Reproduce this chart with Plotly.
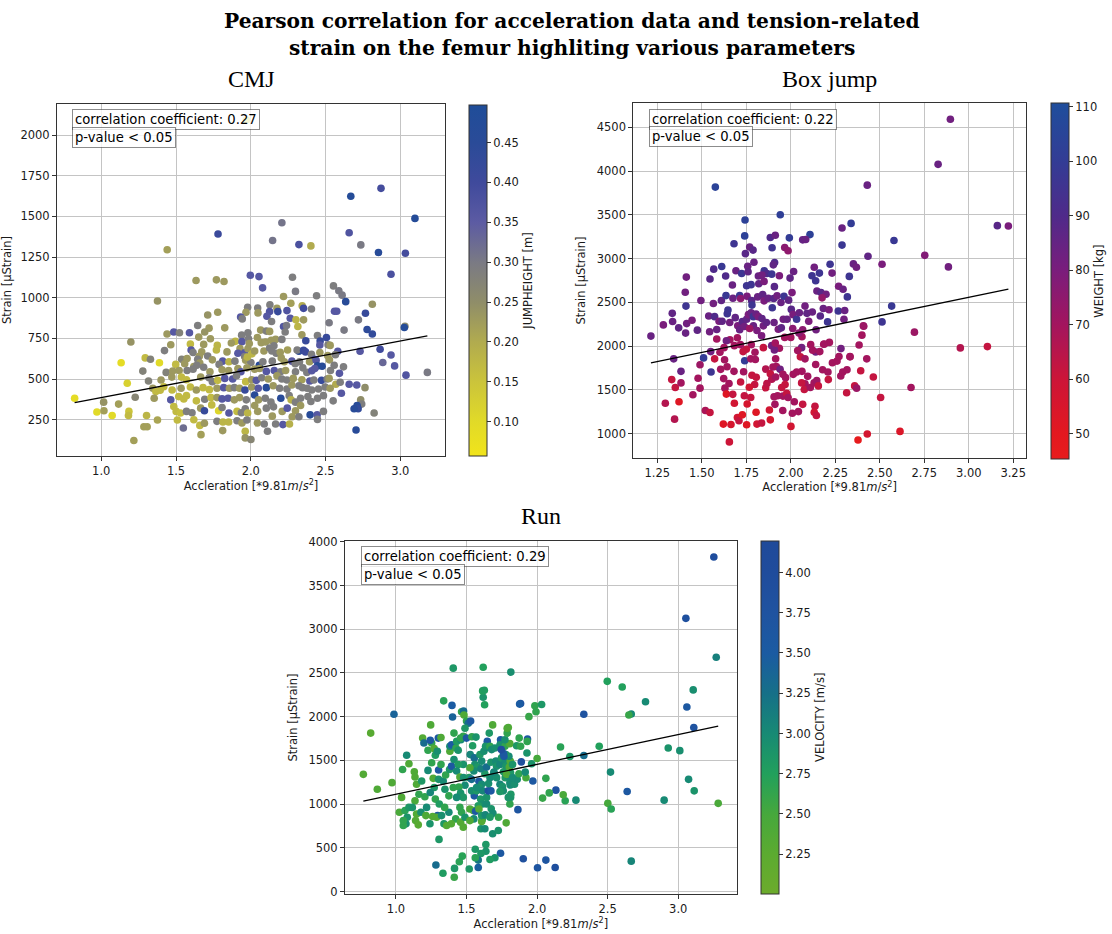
import plotly.graph_objects as go

# ---------------- CMJ: acceleration, strain, jump height ----------------
cmj_acc = [
    1.97, 2.669, 2.871, 3.098, 2.208, 1.781, 2.146, 2.322, 2.402, 2.658, 2.736, 2.854, 3.034, 1.441, 3.181, 0.822, 0.971, 1.018, 1.016,
    1.634, 1.77, 1.821, 1.997, 2.055, 2.279, 2.938, 2.079, 2.299, 2.553, 2.589, 2.611, 1.376, 2.219, 2.44, 2.635, 2.268, 2.344, 2.813, 2.128,
    1.979, 2.046, 2.175, 2.242, 2.353, 2.406, 2.126, 2.181, 2.56, 2.575, 2.767, 1.968, 1.712, 1.779, 1.932, 2.048, 1.943, 2.108, 2.264, 2.302, 2.353, 2.139, 2.72,
    1.645, 1.721, 1.826, 2.219, 2.239, 2.315, 2.524, 2.778, 2.813, 3.031, 3.027, 2.066, 1.981, 2.104, 2.126, 2.23, 1.692, 1.59, 1.44, 1.485, 1.523, 2.624, 2.342,
    1.73, 1.652, 1.939, 1.897, 2.044, 2.166, 2.208, 2.137, 2.368, 2.446, 2.464, 2.506, 2.462, 2.517, 2.531, 1.198, 1.465, 1.596, 1.685, 1.776, 1.87, 1.941, 1.985, 2.07, 1.99, 2.099, 2.155, 2.865, 2.938,
    1.423, 1.601, 1.614, 1.672, 1.77, 1.656, 1.712, 1.841, 1.928, 1.914, 1.959, 1.981, 1.959, 2.008, 2.026, 2.088, 2.126, 2.141, 2.17, 2.197, 2.246, 2.322, 2.31, 2.353, 2.366, 2.406, 2.462, 2.515, 2.582, 2.566, 2.731, 2.428,
    1.294, 1.329, 1.389, 1.133, 1.538, 1.574, 1.645, 1.659, 1.498, 1.558, 1.619, 1.685, 1.639, 1.812, 1.854, 1.743, 1.788, 1.894, 1.966, 2.001, 1.977, 2.057, 2.081, 2.144, 2.204, 2.224, 2.275, 2.297, 2.326, 2.393, 2.437, 2.446, 2.477, 2.526, 2.62, 2.558, 2.883, 2.962,
    1.278, 1.434, 1.478, 1.521, 1.574, 1.614, 1.727, 1.808, 1.852, 1.914, 1.934, 1.974, 2.026, 2.059, 2.104, 2.157, 2.199, 2.233, 2.299, 2.348, 2.375, 2.408, 2.428, 2.533, 2.593, 3.038,
    1.316, 1.4, 1.472, 1.536, 1.57, 1.665, 1.721, 1.743, 1.779, 1.826, 1.879, 1.905, 1.966, 2.006, 2.037, 2.073, 2.117, 2.175, 2.208, 2.242, 2.284, 2.342, 2.395, 2.422, 2.473, 2.511, 2.524, 2.569, 2.598, 2.658, 2.709,
    1.174, 1.345, 1.365, 1.394, 1.418, 1.474, 1.534, 1.596, 1.636, 1.681, 1.723, 1.774, 1.819, 1.857, 1.89, 1.925, 1.961, 2.006, 2.05, 2.104, 2.15, 2.193, 2.242, 2.275, 2.322, 2.346, 2.377, 2.408, 2.453, 2.497, 2.531, 2.764,
    1.227, 1.354, 1.116, 1.465, 1.518, 1.552, 1.57, 1.636, 1.692, 1.734, 1.774, 1.808, 1.848, 1.89, 1.925, 1.97, 2.026, 2.052, 2.097, 2.135, 2.201, 2.257, 2.27, 2.299, 2.333, 2.382, 2.402, 2.446, 2.486, 2.551, 2.606, 2.735, 2.742, 2.711, 2.718,
    1.073, 1.185, 1.182, 1.303, 1.376, 1.485, 1.501, 1.53, 1.57, 1.607, 1.665, 1.69, 1.739, 1.785, 1.808, 1.854, 1.908, 1.937, 1.963, 1.979, 2.026, 2.046, 2.104, 2.152, 2.21, 2.244, 2.299, 2.333, 2.397, 2.444, 2.486, 2.691, 2.825,
    1.285, 1.307, 1.509, 1.549, 1.619, 1.659, 1.69, 1.774, 1.814, 1.852, 1.908, 1.941, 1.974, 2.044, 2.09, 2.144, 2.166, 2.215, 2.277, 2.259, 2.322, 2.446, 2.704, 1.667, 1.812, 1.963, 1.963, 2.112, 1.218, 2.001,
]
cmj_strain = [
    2093, 1624, 1673, 1488, 1461, 1392, 1352, 1327, 1319, 1400, 1325, 1278, 1274, 1295, 541, 382, 297, 305, 358,
    1106, 1110, 1100, 1138, 1130, 1126, 1145, 1061, 1039, 1073, 1043, 1016, 980, 1008, 1012, 976, 966, 951, 960, 957,
    941, 937, 935, 921, 935, 931, 915, 915, 917, 917, 905, 911, 894, 911, 882, 907, 870, 886, 874, 864, 864, 854, 864,
    829, 813, 815, 823, 829, 823, 846, 805, 777, 825, 817, 801, 785, 795, 793, 789, 789, 785, 777, 789, 785, 801, 772,
    748, 758, 770, 732, 756, 744, 744, 738, 736, 768, 734, 756, 709, 711, 707, 728, 711, 716, 713, 707, 722, 730, 748, 724, 718, 728, 705, 683, 648,
    675, 679, 663, 667, 679, 640, 642, 667, 687, 659, 661, 687, 638, 655, 673, 673, 691, 673, 659, 665, 679, 671, 679, 677, 667, 653, 663, 644, 671, 650, 671, 622,
    630, 622, 600, 600, 622, 626, 622, 598, 590, 594, 577, 573, 585, 610, 606, 618, 590, 610, 616, 602, 636, 585, 606, 610, 630, 606, 610, 594, 606, 606, 616, 581, 579, 618, 575, 585, 602, 581,
    549, 541, 549, 553, 553, 561, 545, 557, 553, 565, 545, 569, 561, 565, 547, 553, 545, 553, 545, 569, 541, 551, 565, 553, 535, 524,
    488, 494, 512, 512, 496, 512, 508, 484, 492, 504, 500, 520, 484, 496, 492, 508, 500, 520, 500, 494, 504, 496, 488, 494, 492, 500, 504, 468, 480, 468, 463,
    474, 443, 423, 431, 453, 433, 443, 451, 433, 447, 435, 443, 447, 443, 447, 443, 433, 451, 443, 447, 459, 443, 439, 463, 459, 447, 443, 433, 439, 451, 443, 447,
    388, 382, 346, 372, 392, 378, 398, 366, 376, 386, 386, 378, 382, 372, 386, 372, 402, 372, 382, 358, 382, 398, 372, 358, 382, 392, 362, 382, 398, 366, 413, 372, 346, 337, 317,
    276, 301, 276, 276, 248, 331, 301, 291, 301, 293, 321, 305, 341, 305, 325, 291, 301, 293, 317, 291, 337, 301, 321, 329, 301, 321, 305, 337, 280, 280, 301, 317, 291,
    207, 207, 248, 199, 250, 215, 228, 240, 236, 236, 244, 230, 248, 230, 224, 272, 224, 220, 268, 224, 268, 252, 187, 158, 183, 179, 138, 179, 122, 128,
]
cmj_jumpheight = [
    0.12, 0.47, 0.39, 0.47, 0.31, 0.41, 0.31, 0.38, 0.20, 0.37, 0.30, 0.46, 0.39, 0.22, 0.30, 0.09, 0.10, 0.22, 0.24,
    0.23, 0.23, 0.23, 0.36, 0.36, 0.29, 0.38, 0.36, 0.30, 0.29, 0.30, 0.30, 0.24, 0.23, 0.29, 0.46, 0.22, 0.20, 0.24, 0.29,
    0.29, 0.29, 0.23, 0.37, 0.40, 0.29, 0.37, 0.42, 0.36, 0.36, 0.42, 0.23, 0.24, 0.23, 0.36, 0.23, 0.29, 0.36, 0.36, 0.18, 0.23, 0.29, 0.30,
    0.29, 0.23, 0.23, 0.37, 0.30, 0.18, 0.30, 0.44, 0.43, 0.26, 0.47, 0.23, 0.29, 0.29, 0.23, 0.29, 0.24, 0.36, 0.23, 0.36, 0.28, 0.30, 0.23,
    0.23, 0.23, 0.29, 0.18, 0.23, 0.23, 0.29, 0.23, 0.42, 0.29, 0.42, 0.42, 0.36, 0.29, 0.23, 0.24, 0.23, 0.17, 0.23, 0.18, 0.23, 0.36, 0.29, 0.23, 0.23, 0.23, 0.29, 0.40, 0.36,
    0.29, 0.36, 0.29, 0.23, 0.18, 0.23, 0.29, 0.23, 0.23, 0.36, 0.36, 0.23, 0.29, 0.18, 0.23, 0.23, 0.29, 0.29, 0.29, 0.23, 0.22, 0.45, 0.29, 0.42, 0.41, 0.29, 0.23, 0.23, 0.36, 0.29, 0.36, 0.36,
    0.17, 0.28, 0.10, 0.09, 0.28, 0.23, 0.29, 0.23, 0.17, 0.23, 0.23, 0.29, 0.29, 0.36, 0.18, 0.23, 0.29, 0.29, 0.23, 0.29, 0.18, 0.46, 0.29, 0.29, 0.23, 0.23, 0.36, 0.29, 0.29, 0.23, 0.36, 0.46, 0.46, 0.23, 0.29, 0.29, 0.33, 0.36,
    0.28, 0.28, 0.23, 0.23, 0.29, 0.29, 0.23, 0.23, 0.23, 0.23, 0.36, 0.23, 0.23, 0.23, 0.36, 0.36, 0.29, 0.23, 0.29, 0.29, 0.29, 0.36, 0.36, 0.29, 0.36, 0.37,
    0.28, 0.23, 0.23, 0.17, 0.17, 0.23, 0.29, 0.29, 0.17, 0.36, 0.36, 0.29, 0.17, 0.23, 0.36, 0.29, 0.23, 0.23, 0.29, 0.29, 0.23, 0.22, 0.36, 0.29, 0.42, 0.29, 0.23, 0.20, 0.29, 0.36, 0.36,
    0.12, 0.23, 0.17, 0.17, 0.17, 0.17, 0.23, 0.17, 0.23, 0.17, 0.17, 0.23, 0.36, 0.23, 0.29, 0.23, 0.42, 0.23, 0.36, 0.46, 0.23, 0.29, 0.29, 0.23, 0.29, 0.29, 0.29, 0.29, 0.29, 0.29, 0.23, 0.25,
    0.27, 0.23, 0.22, 0.36, 0.17, 0.17, 0.17, 0.17, 0.29, 0.17, 0.23, 0.36, 0.36, 0.23, 0.23, 0.29, 0.46, 0.23, 0.29, 0.29, 0.46, 0.29, 0.19, 0.29, 0.29, 0.29, 0.29, 0.29, 0.29, 0.29, 0.36, 0.25, 0.29, 0.46, 0.43,
    0.10, 0.15, 0.17, 0.18, 0.21, 0.17, 0.17, 0.16, 0.29, 0.29, 0.23, 0.42, 0.17, 0.11, 0.29, 0.36, 0.17, 0.29, 0.29, 0.18, 0.23, 0.23, 0.29, 0.29, 0.23, 0.36, 0.23, 0.23, 0.46, 0.36, 0.29, 0.46, 0.28,
    0.22, 0.22, 0.17, 0.32, 0.17, 0.17, 0.23, 0.29, 0.18, 0.18, 0.29, 0.23, 0.29, 0.23, 0.29, 0.23, 0.29, 0.36, 0.23, 0.19, 0.29, 0.29, 0.46, 0.22, 0.23, 0.18, 0.24, 0.29, 0.22, 0.27,
]

# ---------------- Box jump: acceleration, strain, body weight ----------------
box_acc = [
    2.897, 2.828, 2.43, 1.576, 1.941, 1.743, 2.339, 2.288, 3.161, 3.223,
    2.108, 1.741, 2.58, 1.992, 1.885, 1.913, 2.067, 2.084, 1.681, 2.288,
    1.966, 1.985, 1.769, 1.788, 1.895, 1.745, 2.434, 2.513, 2.753, 2.886,
    2.221, 2.352, 2.369, 1.909, 1.902, 1.793, 1.758, 1.612, 1.567, 1.692,
    1.724, 1.76, 1.851, 1.866, 1.893, 1.936, 1.996, 2.016, 2.132, 2.119,
    2.161, 2.14, 2.232, 2.329, 1.413, 1.546, 1.634, 1.672, 1.752, 1.777,
    1.82, 1.85, 1.908, 1.818, 1.838, 1.407, 1.495, 1.565, 1.61, 1.636,
    1.675, 1.713, 1.718, 1.754, 1.78, 1.782, 1.814, 1.842, 1.85, 1.874,
    1.904, 1.923, 1.945, 1.962, 2.007, 1.988, 2.147, 2.17, 2.198, 2.176,
    2.269, 2.294, 2.318, 1.411, 1.334, 1.336, 1.284, 1.214, 1.37, 1.415,
    1.409, 1.445, 1.475, 1.539, 1.544, 1.572, 1.584, 1.597, 1.614, 1.643,
    1.647, 1.657, 1.688, 1.702, 1.713, 1.728, 1.739, 1.752, 1.762, 1.777,
    1.79, 1.805, 1.818, 1.838, 1.846, 1.79, 1.769, 1.81, 1.836, 1.863,
    1.896, 1.906, 1.93, 1.947, 1.958, 1.979, 2.003, 2.013, 2.033, 2.048,
    2.08, 2.091, 2.101, 2.121, 2.142, 2.166, 2.183, 2.207, 2.215, 2.267,
    2.303, 2.299, 2.408, 2.4, 2.384, 2.427, 2.333, 2.282, 2.217, 2.189,
    2.14, 2.123, 2.112, 2.061, 2.063, 2.046, 2.067, 2.011, 2.0, 1.966,
    1.936, 1.908, 1.893, 1.913, 1.846, 1.799, 1.778, 1.75, 1.732, 1.717,
    1.7, 1.683, 1.658, 1.638, 1.625, 1.602, 1.584, 1.55, 1.51, 1.49,
    1.342, 1.383, 1.331, 1.351, 1.383, 1.45, 1.49, 1.479, 1.295, 1.372,
    1.347, 1.52, 1.546, 1.552, 1.572, 1.606, 1.623, 1.63, 1.638, 1.628,
    1.642, 1.681, 1.653, 1.674, 1.683, 1.664, 1.621, 1.655, 1.7, 1.709,
    1.728, 1.752, 1.739, 1.718, 1.735, 1.741, 1.775, 1.801, 1.782, 1.806,
    1.797, 1.767, 1.775, 1.755, 1.805, 1.81, 1.836, 1.859, 1.866, 1.859,
    1.885, 1.9, 1.919, 1.915, 1.893, 1.915, 1.94, 1.956, 1.971, 1.968,
    1.949, 1.926, 1.906, 1.88, 1.911, 1.885, 1.955, 1.956, 1.977, 1.985,
    2.009, 2.001, 2.043, 2.067, 2.02, 2.014, 2.033, 2.054, 2.08, 2.039,
    2.063, 2.095, 2.08, 2.061, 2.076, 2.11, 2.131, 2.146, 2.155, 2.14,
    2.179, 2.209, 2.211, 2.163, 2.185, 2.136, 2.132, 2.144, 2.234, 2.26,
    2.271, 2.281, 2.292, 2.316, 2.314, 2.333, 2.359, 2.37, 2.393,
    2.464, 2.505, 2.378, 2.43, 2.614, 2.676, 2.695, 2.953, 3.105, 2.567, 2.513, 2.41,
]
box_strain = [
    4594, 4078, 3840, 3818, 3501, 3441, 3403, 3351, 3377, 3373,
    3275, 3260, 3207, 3238, 3241, 3268, 3215, 3219, 3170, 3155,
    3128, 3091, 3132, 3098, 3124, 3057, 3027, 2936, 3038, 2906,
    2936, 2940, 2902, 2955, 2929, 2959, 2914, 2910, 2880, 2861,
    2831, 2850, 2861, 2831, 2823, 2804, 2778, 2854, 2902, 2804,
    2835, 2748, 2835, 2797, 2789, 2767, 2801, 2699, 2691, 2703,
    2714, 2740, 2680, 2801, 2812, 2616, 2522, 2488, 2522, 2578,
    2548, 2578, 2544, 2571, 2522, 2469, 2563, 2590, 2518, 2548,
    2544, 2575, 2499, 2571, 2612, 2526, 2631, 2612, 2593, 2552,
    2684, 2650, 2563, 2458, 2375, 2281, 2243, 2115, 2209, 2258,
    2149, 2296, 2183, 2345, 2164, 2337, 2190, 2285, 2285, 2371,
    2413, 2270, 2326, 2232, 2187, 2281, 2224, 2307, 2360, 2382,
    2337, 2367, 2337, 2315, 2232, 2232, 2202, 2179, 2119, 2270,
    2439, 2270, 2194, 2209, 2307, 2307, 2420, 2360, 2307, 2382,
    2458, 2375, 2285, 2390, 2187, 2345, 2431, 2277, 2416, 2401,
    2408, 2307, 2232, 2126, 2013, 1855, 1881, 1972, 2043, 2025,
    1934, 1953, 2017, 1983, 2108, 2149, 2187, 2202, 2100, 2100,
    1976, 1957, 2006, 2036, 1983, 1930, 2017, 1964, 1938, 2017,
    2096, 2006, 2074, 2062, 1983, 1930, 2081, 1938, 1866, 1787,
    1855, 1712, 1618, 1527, 1580, 1445, 1520, 1633, 1347, 1365,
    1166, 1264, 1241, 1704, 1855, 1735, 1629, 1520, 1452, 1844,
    1765, 1712, 1573, 1449, 1347, 1105, 1109, 906, 1185, 1147,
    1215, 1102, 1433, 1591, 1708, 1833, 1855, 1848, 1667, 1644,
    1561, 1531, 1414, 1339, 1245, 1109, 1121, 1524, 1573, 1738,
    1686, 1761, 1768, 1855, 1622, 1648, 1735, 1678, 1640, 1561,
    1527, 1433, 1422, 1271, 1335, 1158, 1264, 1429, 1460, 1414,
    1234, 1083, 1252, 1335, 1365, 1678, 1704, 1878, 1855, 1949,
    1712, 1655, 1569, 1580, 1505, 1527, 1580, 1606, 1546, 1791,
    1731, 1704, 1618, 1938, 2021, 1313, 1245, 1207, 1810, 1829,
    1881, 1659, 1704, 1731, 1467, 1878, 1546, 1520, 1719,
    1648, 1414, 928, 996, 1026, 1527, 2160, 1980, 1995, 2458, 2277, 2228,
]
box_weight = [
    82, 84, 84, 104, 102, 103, 100, 84, 88, 80,
    103, 103, 98, 100, 90, 84, 85, 84, 96, 97,
    76, 75, 84, 88, 95, 88, 86, 80, 78, 82,
    96, 84, 82, 90, 86, 84, 84, 98, 90, 84,
    96, 86, 96, 90, 96, 80, 86, 84, 82, 96,
    96, 96, 82, 96, 82, 88, 90, 84, 96, 96,
    86, 80, 88, 84, 82, 82, 82, 82, 86, 98,
    84, 98, 76, 80, 88, 96, 84, 86, 80, 84,
    88, 82, 84, 96, 80, 86, 84, 88, 82, 74,
    80, 84, 96, 96, 86, 84, 80, 84, 86, 82,
    84, 80, 86, 84, 82, 90, 84, 80, 86, 96,
    96, 82, 86, 80, 84, 88, 82, 86, 80, 84,
    96, 84, 80, 86, 82, 84, 72, 80, 80, 86,
    96, 84, 80, 86, 82, 84, 88, 80, 96, 84,
    82, 86, 80, 84, 82, 88, 84, 96, 80, 96,
    84, 82, 72, 70, 70, 70, 70, 82, 70, 70,
    82, 70, 70, 82, 70, 76, 76, 76, 70, 70,
    70, 82, 82, 70, 62, 70, 70, 62, 62, 70,
    70, 70, 70, 82, 70, 70, 70, 82, 100, 72,
    84, 84, 62, 62, 70, 70, 70, 70, 66, 52,
    66, 68, 62, 96, 62, 70, 70, 70, 52, 70,
    70, 70, 70, 62, 58, 56, 52, 60, 58, 62,
    52, 52, 62, 62, 70, 100, 70, 70, 62, 62,
    62, 58, 62, 56, 52, 58, 62, 62, 64, 66,
    62, 70, 70, 70, 66, 70, 82, 70, 70, 62,
    62, 70, 70, 58, 70, 56, 70, 70, 62, 70,
    70, 58, 70, 62, 70, 70, 70, 62, 70, 70,
    70, 70, 70, 62, 62, 70, 70, 72, 62, 70,
    70, 70, 62, 70, 70, 62, 58, 62, 70, 70,
    70, 70, 70, 70, 62, 70, 62, 72, 62,
    62, 62, 47, 57, 54, 70, 72, 66, 62, 98, 96, 72,
]

# ---------------- Run: acceleration, strain, running velocity ----------------
run_acc = [
    3.252, 3.054, 3.269, 2.497, 2.603, 3.106, 2.768, 3.061, 2.667, 2.65,
    2.331, 3.11, 2.929, 3.011, 2.44, 2.166, 2.232, 2.331, 2.52, 3.073,
    3.113, 2.638, 2.9, 3.283, 2.501, 2.525, 2.275, 2.199, 2.133, 2.185,
    2.086, 2.039, 2.062, 2.0, 1.97, 1.921, 1.864, 2.667, 2.128, 2.062,
    2.003, 1.902, 1.741, 1.701, 1.666, 1.637, 1.637, 1.602, 1.583, 1.583,
    1.562, 1.562, 1.519, 1.47, 1.449, 1.413, 1.415, 1.333, 1.283, 1.305,
    1.406, 1.618, 1.814, 1.338, 1.397, 1.401, 1.618, 1.614, 1.626, 1.628,
    1.883, 1.876, 1.984, 1.992, 2.032, 1.942, 0.986, 0.821, 0.769, 0.868,
    0.972, 1.04, 1.024, 1.064, 1.08, 1.071, 1.052, 1.052, 1.092, 1.076,
    1.092, 1.047, 1.13, 1.135, 1.146, 1.135, 1.116, 1.163, 1.146, 1.139,
    1.158, 1.177, 1.189, 1.198, 1.182, 1.205, 1.217, 1.212, 1.241, 1.253,
    1.243, 1.246, 1.227, 1.271, 1.279, 1.293, 1.3, 1.319, 1.253, 1.227,
    1.264, 1.302, 1.319, 1.302, 1.271, 1.243, 1.279, 1.307, 1.295, 1.288,
    1.26, 1.323, 1.34, 1.359, 1.375, 1.345, 1.375, 1.347, 1.335, 1.352,
    1.38, 1.394, 1.411, 1.382, 1.382, 1.394, 1.425, 1.411, 1.43, 1.441,
    1.465, 1.479, 1.482, 1.5, 1.512, 1.529, 1.489, 1.477, 1.46, 1.458,
    1.5, 1.538, 1.567, 1.543, 1.526, 1.555, 1.559, 1.578, 1.552, 1.524,
    1.477, 1.441, 1.43, 1.453, 1.479, 1.519, 1.536, 1.489, 1.446, 1.458,
    1.477, 1.406, 1.43, 1.453, 1.465, 1.423, 1.392, 1.458, 1.477, 1.489,
    1.524, 1.548, 1.564, 1.552, 1.524, 1.555, 1.536, 1.571, 1.588, 1.607,
    1.59, 1.614, 1.6, 1.614, 1.642, 1.583, 1.611, 1.607, 1.602, 1.63,
    1.588, 1.607, 1.633, 1.642, 1.654, 1.673, 1.656, 1.666, 1.63, 1.602,
    1.642, 1.673, 1.607, 1.595, 1.623, 1.642, 1.647, 1.635, 1.666, 1.678,
    1.661, 1.685, 1.701, 1.708, 1.713, 1.737, 1.748, 1.751, 1.741, 1.737,
    1.772, 1.774, 1.779, 1.762, 1.694, 1.713, 1.737, 1.755, 1.774, 1.796,
    1.807, 1.812, 1.784, 1.803, 1.81, 1.826, 1.8, 1.779, 1.807, 1.772,
    1.788, 1.788, 1.796, 1.762, 1.765, 1.746, 1.675, 1.687, 1.727, 1.781,
    1.666, 1.685, 1.725, 1.571, 1.855, 1.928, 1.932, 1.93, 1.873, 1.883,
    1.81, 1.812, 1.807, 1.84, 1.859, 1.814, 1.796, 1.871, 1.916, 1.888,
    1.961, 1.826, 1.76, 1.737, 1.694,
]
run_strain = [
    3827, 3125, 2680, 2404, 2340, 2306, 2170, 2110, 2030, 2019,
    2027, 1876, 1642, 1611, 1661, 1653, 1544, 1555, 1366, 1283,
    1151, 1144, 1045, 1008, 1008, 944, 1045, 1038, 1159, 1106,
    1128, 1068, 1294, 1521, 1264, 1302, 936, 347, 275, 359,
    272, 374, 438, 385, 366, 536, 460, 434, 359, 275,
    483, 385, 257, 404, 340, 162, 264, 208, 302, 596,
    2555, 2566, 2510, 2181, 2129, 1996, 2223, 2295, 2302, 2136,
    2151, 2144, 2125, 2057, 2140, 2000, 2027, 1812, 1340, 1170,
    1245, 1076, 906, 925, 849, 774, 755, 811, 962, 1559,
    1461, 1396, 1370, 1310, 1227, 1038, 962, 1113, 887, 811,
    762, 906, 1755, 1698, 1264, 1083, 962, 868, 774, 1698,
    1729, 1906, 1615, 1634, 1559, 1604, 1755, 1762, 1472, 1385,
    1294, 1389, 1453, 1283, 1189, 1132, 1057, 1000, 868, 849,
    857, 868, 774, 755, 906, 962, 1094, 1170, 1264, 1332,
    1396, 1434, 1510, 1604, 1661, 1679, 1642, 1812, 1717, 1615,
    2057, 2064, 2019, 1951, 1925, 1951, 1868, 1774, 1736, 1755,
    1755, 1770, 1766, 1668, 1566, 1528, 1453, 1423, 1378, 1415,
    1453, 1453, 1378, 1310, 1302, 1302, 1283, 1215, 1196, 1125,
    1076, 1189, 1076, 962, 906, 830, 774, 793, 736, 849,
    944, 925, 917, 830, 811, 1094, 1151, 1151, 1261, 1227,
    1189, 1151, 1057, 1000, 1000, 981, 823, 800, 717, 717,
    944, 868, 876, 1076, 1151, 1151, 1234, 1302, 1347, 1404,
    1423, 1479, 1491, 1566, 1604, 1649, 1717, 1661, 1661, 1623,
    1812, 1906, 1642, 1491, 1434, 1453, 1528, 1642, 1736, 1679,
    1661, 1491, 1434, 1370, 1359, 1302, 1227, 1200, 1302, 1321,
    1245, 1359, 1340, 1423, 1491, 1453, 1547, 1566, 1691, 1736,
    1812, 1868, 1876, 1578, 1547, 1623, 947, 894, 849, 785,
    849, 660, 698, 1189, 1668, 1585, 1744, 1717, 1755, 1661,
    1219, 1076, 1000, 1227, 1283, 1113, 1076, 1347, 1366, 1483,
    1461, 1302, 1151, 1144, 1366,
]
run_velocity = [
    3.95, 3.85, 3.1, 2.75, 2.75, 2.95, 3.0, 3.6, 3.0, 2.6,
    3.75, 3.75, 2.9, 2.95, 2.75, 2.7, 2.85, 3.3, 3.0, 3.0,
    2.9, 3.6, 3.0, 2.45, 2.5, 2.7, 3.0, 2.7, 3.8, 2.45,
    2.65, 2.6, 2.65, 2.5, 3.6, 2.5, 3.7, 3.05, 3.9, 3.7,
    3.7, 3.85, 3.6, 2.9, 2.8, 2.85, 2.9, 2.85, 3.2, 3.45,
    2.85, 2.7, 2.85, 2.7, 2.7, 2.6, 2.85, 2.8, 3.3, 2.85,
    2.85, 2.75, 2.95, 2.7, 3.5, 3.4, 2.9, 2.75, 2.8, 2.75,
    3.8, 3.5, 2.65, 2.65, 2.85, 2.6, 3.4, 2.3, 2.35, 2.4,
    2.4, 2.4, 2.45, 2.7, 2.9, 2.95, 2.65, 2.65, 2.85, 3.0,
    2.4, 2.65, 2.4, 2.4, 2.4, 2.45, 2.9, 2.65, 2.35, 2.35,
    2.3, 2.95, 2.35, 3.3, 2.85, 2.65, 3.0, 2.4, 2.9, 2.65,
    3.6, 2.4, 2.65, 2.35, 2.8, 2.95, 3.6, 2.4, 2.65, 3.0,
    2.4, 3.6, 2.65, 2.9, 2.85, 3.05, 2.65, 2.8, 3.6, 2.35,
    2.35, 2.95, 2.85, 2.35, 3.0, 2.65, 2.65, 2.9, 3.0, 2.65,
    2.85, 3.6, 2.95, 2.4, 3.0, 3.5, 2.65, 2.65, 2.8, 2.9,
    2.65, 3.3, 2.4, 2.65, 3.3, 3.6, 2.85, 2.65, 3.0, 2.65,
    3.6, 2.65, 2.9, 2.8, 3.05, 3.3, 2.95, 2.85, 3.0, 2.4,
    2.9, 2.8, 3.0, 2.4, 2.95, 2.85, 3.3, 3.0, 2.65, 2.9,
    2.85, 2.65, 3.0, 2.65, 2.65, 2.65, 2.35, 2.35, 2.35, 2.9,
    2.4, 2.4, 3.6, 3.0, 2.4, 3.6, 2.95, 2.85, 3.6, 3.0,
    2.9, 3.05, 2.85, 2.95, 3.0, 2.8, 2.65, 2.35, 2.9, 3.0,
    2.35, 2.85, 3.05, 2.9, 3.9, 3.6, 2.95, 3.0, 2.85, 3.1,
    3.3, 2.9, 3.0, 2.85, 2.95, 3.05, 3.6, 2.9, 2.65, 3.0,
    2.85, 2.4, 2.95, 3.0, 2.9, 3.05, 2.85, 3.6, 3.6, 2.95,
    2.65, 3.0, 2.9, 2.85, 3.0, 2.95, 3.05, 2.9, 2.85, 3.0,
    2.95, 2.85, 2.4, 2.4, 2.4, 2.9, 3.0, 2.85, 2.4, 2.95,
    2.65, 2.4, 2.4, 3.6, 3.6, 3.95, 2.9, 3.0, 2.65, 2.4,
    2.85, 2.95, 2.9, 3.0, 2.85, 2.9, 3.6, 2.65, 2.65, 2.65,
    3.0, 2.9, 2.65, 2.95, 3.0, 2.85, 2.9, 2.65, 3.0, 3.9,
    2.9, 3.0, 2.95, 2.85, 3.05,
]

# Linear fits (slope, intercept) and Pearson statistics per exercise
cmj_fit = (174.1, 212.0)
box_fit = (419.4, 1299.6)
run_fit = (341.3, 772.0)
corr_coef = {"CMJ": 0.27, "Box jump": 0.22, "Run": 0.29}
p_value_text = "p-value < 0.05"

# Colour scales for the third variable of each exercise
jump_scale = [
    [0.0, "#f1e41b"], [0.098, "#e1da28"], [0.211, "#cbc43b"], [0.325, "#b1ab4f"],
    [0.439, "#8f8d69"], [0.552, "#7a7a84"], [0.666, "#5c5ba3"], [0.78, "#3f4a9c"],
    [0.893, "#2a4b98"], [1.0, "#1f4d99"],
]
weight_scale = [
    [0.0, "#e81c1c"], [0.07, "#e3181f"], [0.224, "#cc1538"], [0.377, "#a3155e"],
    [0.53, "#7a1d7c"], [0.683, "#4f2a8a"], [0.836, "#333c95"], [1.0, "#1f4e9c"],
]
velocity_scale = [
    [0.0, "#6cab2c"], [0.112, "#5cab30"], [0.226, "#46a83c"], [0.34, "#22a05c"],
    [0.454, "#178a74"], [0.568, "#167088"], [0.682, "#1b5ba2"], [0.796, "#1f53a0"],
    [0.91, "#1f4c9c"], [1.0, "#1f4a9a"],
]

W, H = 1112, 934
TEXT = "#1a1a1a"
GRID = "#c4c4c4"
SPINE = "#333333"
AX_FONT = dict(family="DejaVu Sans", size=11.5, color=TEXT)
XTITLE = "Accleration [*9.81<i>m</i>/<i>s</i><sup>2</sup>]"
YTITLE = "Strain [µStrain]"

fig = go.Figure()


def add_panel(acc, strain, param, fit, xa, ya, cax):
    fig.add_trace(go.Scatter(
        x=acc, y=strain, mode="markers", xaxis=xa, yaxis=ya,
        marker=dict(color=param, coloraxis=cax, size=7.6, line=dict(width=0)),
        showlegend=False, hoverinfo="skip",
    ))
    slope, intercept = fit
    x0, x1 = min(acc), max(acc)
    fig.add_trace(go.Scatter(
        x=[x0, x1], y=[intercept + slope * x0, intercept + slope * x1],
        mode="lines", xaxis=xa, yaxis=ya, line=dict(color="black", width=1.3),
        showlegend=False, hoverinfo="skip",
    ))


add_panel(cmj_acc, cmj_strain, cmj_jumpheight, cmj_fit, "x", "y", "coloraxis")
add_panel(box_acc, box_strain, box_weight, box_fit, "x2", "y2", "coloraxis2")
add_panel(run_acc, run_strain, run_velocity, run_fit, "x3", "y3", "coloraxis3")


def px_x(v):
    return v / W


def px_y(v):
    return 1 - v / H


def axis(domain, rng, tickvals, fmt, title, anchor, standoff):
    return dict(
        domain=domain, range=rng, tickvals=tickvals, tickformat=fmt,
        showgrid=True, gridcolor=GRID, gridwidth=1, zeroline=False,
        showline=True, linecolor=SPINE, linewidth=1, mirror=True,
        ticks="outside", ticklen=4, tickwidth=1, tickcolor=SPINE,
        tickfont=AX_FONT, anchor=anchor,
        title=dict(text=title, font=AX_FONT, standoff=standoff),
    )


# panel rectangles in pixels: (left, right, top, bottom)
cmj_box = (57, 445, 99, 455)
box_box = (633.3, 1026, 98.3, 456.7)
run_box = (345, 736.7, 540.7, 897.7)


def dom(b):
    return [px_x(b[0]), px_x(b[1])], [px_y(b[3]), px_y(b[2])]


d1x, d1y = dom(cmj_box)
d2x, d2y = dom(box_box)
d3x, d3y = dom(run_box)

fig.update_layout(
    width=W, height=H, autosize=False,
    margin=dict(l=0, r=0, t=0, b=0, pad=0),
    paper_bgcolor="white", plot_bgcolor="white",
    font=dict(family="DejaVu Sans", color=TEXT),
    xaxis=axis(d1x, [0.704, 3.299], [1.0, 1.5, 2.0, 2.5, 3.0], ".1f", XTITLE, "y", 3),
    yaxis=axis(d1y, [26, 2192], [250, 500, 750, 1000, 1250, 1500, 1750, 2000], "d", YTITLE, "x", 8),
    xaxis2=axis(d2x, [1.115, 3.322], [1.25, 1.5, 1.75, 2.0, 2.25, 2.5, 2.75, 3.0, 3.25], ".2f", XTITLE, "y2", 3),
    yaxis2=axis(d2y, [724, 4776], [1000, 1500, 2000, 2500, 3000, 3500, 4000, 4500], "d", YTITLE, "x2", 8),
    xaxis3=axis(d3x, [0.639, 3.414], [1.0, 1.5, 2.0, 2.5, 3.0], ".1f", XTITLE, "y3", 3),
    yaxis3=axis(d3y, [-30, 4011], [0, 500, 1000, 1500, 2000, 2500, 3000, 3500, 4000], "d", YTITLE, "x3", 8),
)


def cbar(x_left, top, bottom, tickvals, fmt, title):
    return dict(
        x=px_x(x_left), xanchor="left", xpad=0, xref="paper",
        y=px_y((top + bottom) / 2), yanchor="middle", ypad=0, yref="paper",
        len=(bottom - top) / H, lenmode="fraction", thickness=18, thicknessmode="pixels",
        outlinewidth=1, outlinecolor=SPINE,
        ticks="outside", ticklen=4, tickwidth=1, tickcolor=SPINE,
        tickvals=tickvals, tickformat=fmt, tickfont=AX_FONT,
        title=dict(text=title, side="right", font=AX_FONT),
    )


fig.update_layout(
    coloraxis=dict(colorscale=jump_scale, cmin=0.057, cmax=0.497,
                   colorbar=cbar(469.3, 100, 455, [0.10, 0.15, 0.20, 0.25, 0.30, 0.35, 0.40, 0.45], ".2f", "JUMPHEIGHT [m]")),
    coloraxis2=dict(colorscale=weight_scale, cmin=45.4, cmax=110.7,
                    colorbar=cbar(1050.7, 98.3, 457.7, [50, 60, 70, 80, 90, 100, 110], "d", "WEIGHT [kg]")),
    coloraxis3=dict(colorscale=velocity_scale, cmin=2.004, cmax=4.197,
                    colorbar=cbar(760.7, 540.7, 897.3, [2.25, 2.5, 2.75, 3.0, 3.25, 3.5, 3.75, 4.0], ".2f", "VELOCITY [m/s]")),
)

annotations = []

# Figure title (two lines) and panel titles
TITLE_FONT = dict(family="DejaVu Serif", size=20.2, color="black")
SERIF = "Liberation Serif"
annotations.append(dict(text="<b>Pearson correlation for acceleration data and tension-related</b>",
                        x=px_x(572), y=px_y(15), xref="paper", yref="paper",
                        xanchor="center", yanchor="middle", showarrow=False, font=TITLE_FONT))
annotations.append(dict(text="<b>strain on the femur highliting various parameters</b>",
                        x=px_x(572), y=px_y(42), xref="paper", yref="paper",
                        xanchor="center", yanchor="middle", showarrow=False, font=TITLE_FONT))

for name, b in (("CMJ", cmj_box), ("Box jump", box_box), ("Run", run_box)):
    annotations.append(dict(text=name, x=px_x((b[0] + b[1]) / 2), y=px_y(b[2] - 25),
                            xref="paper", yref="paper", xanchor="center", yanchor="middle",
                            showarrow=False, font=dict(family=SERIF, size=24, color="black")))

# Correlation statistic boxes in the upper-left corner of each panel
BOX_FONT = dict(family="DejaVu Sans", size=13.2, color="black")
for name, b in (("CMJ", cmj_box), ("Box jump", box_box), ("Run", run_box)):
    left = b[0] + (14.7 if name == "CMJ" else 15.7)
    top = b[2] + 5.5
    annotations.append(dict(text=f"correlation coefficient: {corr_coef[name]:.2f}",
                            x=px_x(left), y=px_y(top), xref="paper", yref="paper",
                            xanchor="left", yanchor="top", showarrow=False, font=BOX_FONT,
                            bgcolor="rgba(255,255,255,0.8)", bordercolor="rgba(0,0,0,0.45)",
                            borderwidth=1, borderpad=2))
    annotations.append(dict(text=p_value_text,
                            x=px_x(left), y=px_y(top + 18), xref="paper", yref="paper",
                            xanchor="left", yanchor="top", showarrow=False, font=BOX_FONT,
                            bgcolor="rgba(255,255,255,0.8)", bordercolor="rgba(0,0,0,0.45)",
                            borderwidth=1, borderpad=2))

fig.update_layout(annotations=annotations)

fig.write_html("out.html")
